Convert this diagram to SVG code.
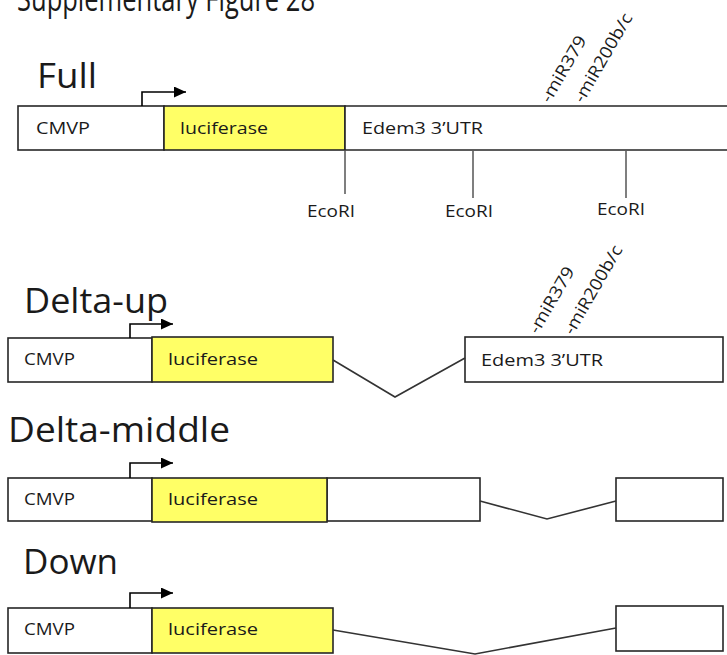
<svg xmlns="http://www.w3.org/2000/svg" width="727" height="655" viewBox="0 0 727 655">
<style>
.box{fill:#fff;stroke:#262626;stroke-width:1.6}
.luc{fill:#ffff66;stroke:#262626;stroke-width:1.6}
.ln{fill:none;stroke:#333;stroke-width:1.6}
.eco{fill:none;stroke:#555;stroke-width:1.5}
.arr{fill:none;stroke:#000;stroke-width:1.6}
.t{font-family:"Open Sans","Liberation Sans",sans-serif;fill:#1a1a1a}
.h{font-size:34px}
.s{font-size:16px}
.m{font-size:17px}
</style>
<defs>
<marker id="ah" viewBox="0 0 12 11" refX="12" refY="5.5" markerWidth="12" markerHeight="11" markerUnits="userSpaceOnUse" orient="auto">
<path d="M0,0 L12,5.5 L0,11 z" fill="#000"/>
</marker>
</defs>
<rect width="727" height="655" fill="#fff"/>

<g id="title">
<text class="t" x="17" y="11" font-size="35" textLength="298" lengthAdjust="spacingAndGlyphs">Supplementary Figure 28</text>
</g>

<!-- Full -->
<g id="full">
<text class="t h" x="37" y="88" textLength="60" lengthAdjust="spacingAndGlyphs">Full</text>
<g id="full-cmvp"><rect class="box" x="18" y="106" width="146" height="44"/><text class="t s" x="36" y="134" textLength="54" lengthAdjust="spacingAndGlyphs">CMVP</text></g>
<g id="full-luc"><rect class="luc" x="164" y="106" width="181" height="44"/><text class="t s" x="180" y="134" textLength="88" lengthAdjust="spacingAndGlyphs">luciferase</text></g>
<g id="full-utr"><path class="box" d="M740,106 H345 V150 H740"/><text class="t s" x="362" y="134" textLength="121" lengthAdjust="spacingAndGlyphs">Edem3 3’UTR</text></g>
<path class="arr" d="M142,106 V92 H186" marker-end="url(#ah)"/>
<text class="t m" transform="translate(550,104) rotate(-60)" textLength="74" lengthAdjust="spacingAndGlyphs">-miR379</text>
<text class="t m" transform="translate(583,104) rotate(-60)" textLength="100" lengthAdjust="spacingAndGlyphs">-miR200b/c</text>
<g id="ecori">
<path class="eco" d="M345,150 V194 M473,151 V198 M626,151 V198"/>
<text class="t s" x="331" y="217" text-anchor="middle" textLength="48" lengthAdjust="spacingAndGlyphs">EcoRI</text>
<text class="t s" x="469" y="217" text-anchor="middle" textLength="48" lengthAdjust="spacingAndGlyphs">EcoRI</text>
<text class="t s" x="621" y="215" text-anchor="middle" textLength="48" lengthAdjust="spacingAndGlyphs">EcoRI</text>
</g>
</g>

<!-- Delta-up -->
<g id="delta-up">
<text class="t h" x="24" y="313" textLength="144" lengthAdjust="spacingAndGlyphs">Delta-up</text>
<g id="du-cmvp"><rect class="box" x="8" y="338" width="144" height="44"/><text class="t s" x="24" y="365" textLength="51" lengthAdjust="spacingAndGlyphs">CMVP</text></g>
<g id="du-luc"><rect class="luc" x="152" y="337" width="181" height="45"/><text class="t s" x="168" y="365" textLength="90" lengthAdjust="spacingAndGlyphs">luciferase</text></g>
<g id="du-utr"><rect class="box" x="465" y="337" width="258" height="45"/><text class="t s" x="481" y="366" textLength="122" lengthAdjust="spacingAndGlyphs">Edem3 3’UTR</text></g>
<path class="arr" d="M130,338 V324 H173" marker-end="url(#ah)"/>
<text class="t m" transform="translate(538,335) rotate(-60)" textLength="74" lengthAdjust="spacingAndGlyphs">-miR379</text>
<text class="t m" transform="translate(573,336) rotate(-60)" textLength="100" lengthAdjust="spacingAndGlyphs">-miR200b/c</text>
</g>

<!-- Delta-middle -->
<g id="delta-middle">
<text class="t h" x="8" y="442" textLength="222" lengthAdjust="spacingAndGlyphs">Delta-middle</text>
<g id="dm-cmvp"><rect class="box" x="8" y="478" width="144" height="43"/><text class="t s" x="24" y="505" textLength="51" lengthAdjust="spacingAndGlyphs">CMVP</text></g>
<g id="dm-utr1"><rect class="box" x="327" y="478" width="153" height="43"/></g>
<g id="dm-luc"><rect class="luc" x="152" y="478" width="175" height="44"/><text class="t s" x="168" y="505" textLength="90" lengthAdjust="spacingAndGlyphs">luciferase</text></g>
<g id="dm-utr2"><rect class="box" x="616" y="478" width="107" height="43"/></g>
<path class="arr" d="M130,478 V463 H173" marker-end="url(#ah)"/>
</g>

<!-- Down -->
<g id="down">
<text class="t h" x="23" y="574" textLength="95" lengthAdjust="spacingAndGlyphs">Down</text>
<g id="dn-cmvp"><rect class="box" x="8" y="608" width="144" height="45"/><text class="t s" x="24" y="635" textLength="51" lengthAdjust="spacingAndGlyphs">CMVP</text></g>
<g id="dn-luc"><rect class="luc" x="152" y="608" width="181" height="45"/><text class="t s" x="168" y="635" textLength="90" lengthAdjust="spacingAndGlyphs">luciferase</text></g>
<g id="dn-utr"><rect class="box" x="616" y="606" width="107" height="45"/></g>
<path class="arr" d="M130,608 V593 H173" marker-end="url(#ah)"/>
</g>

<g id="connectors">
<path class="ln" d="M333,360 L395,397 L465,358"/>
<path class="ln" d="M480,501 L547,519 L616,501"/>
<path class="ln" d="M333,630 L475,654 L616,628"/>
</g>
</svg>
